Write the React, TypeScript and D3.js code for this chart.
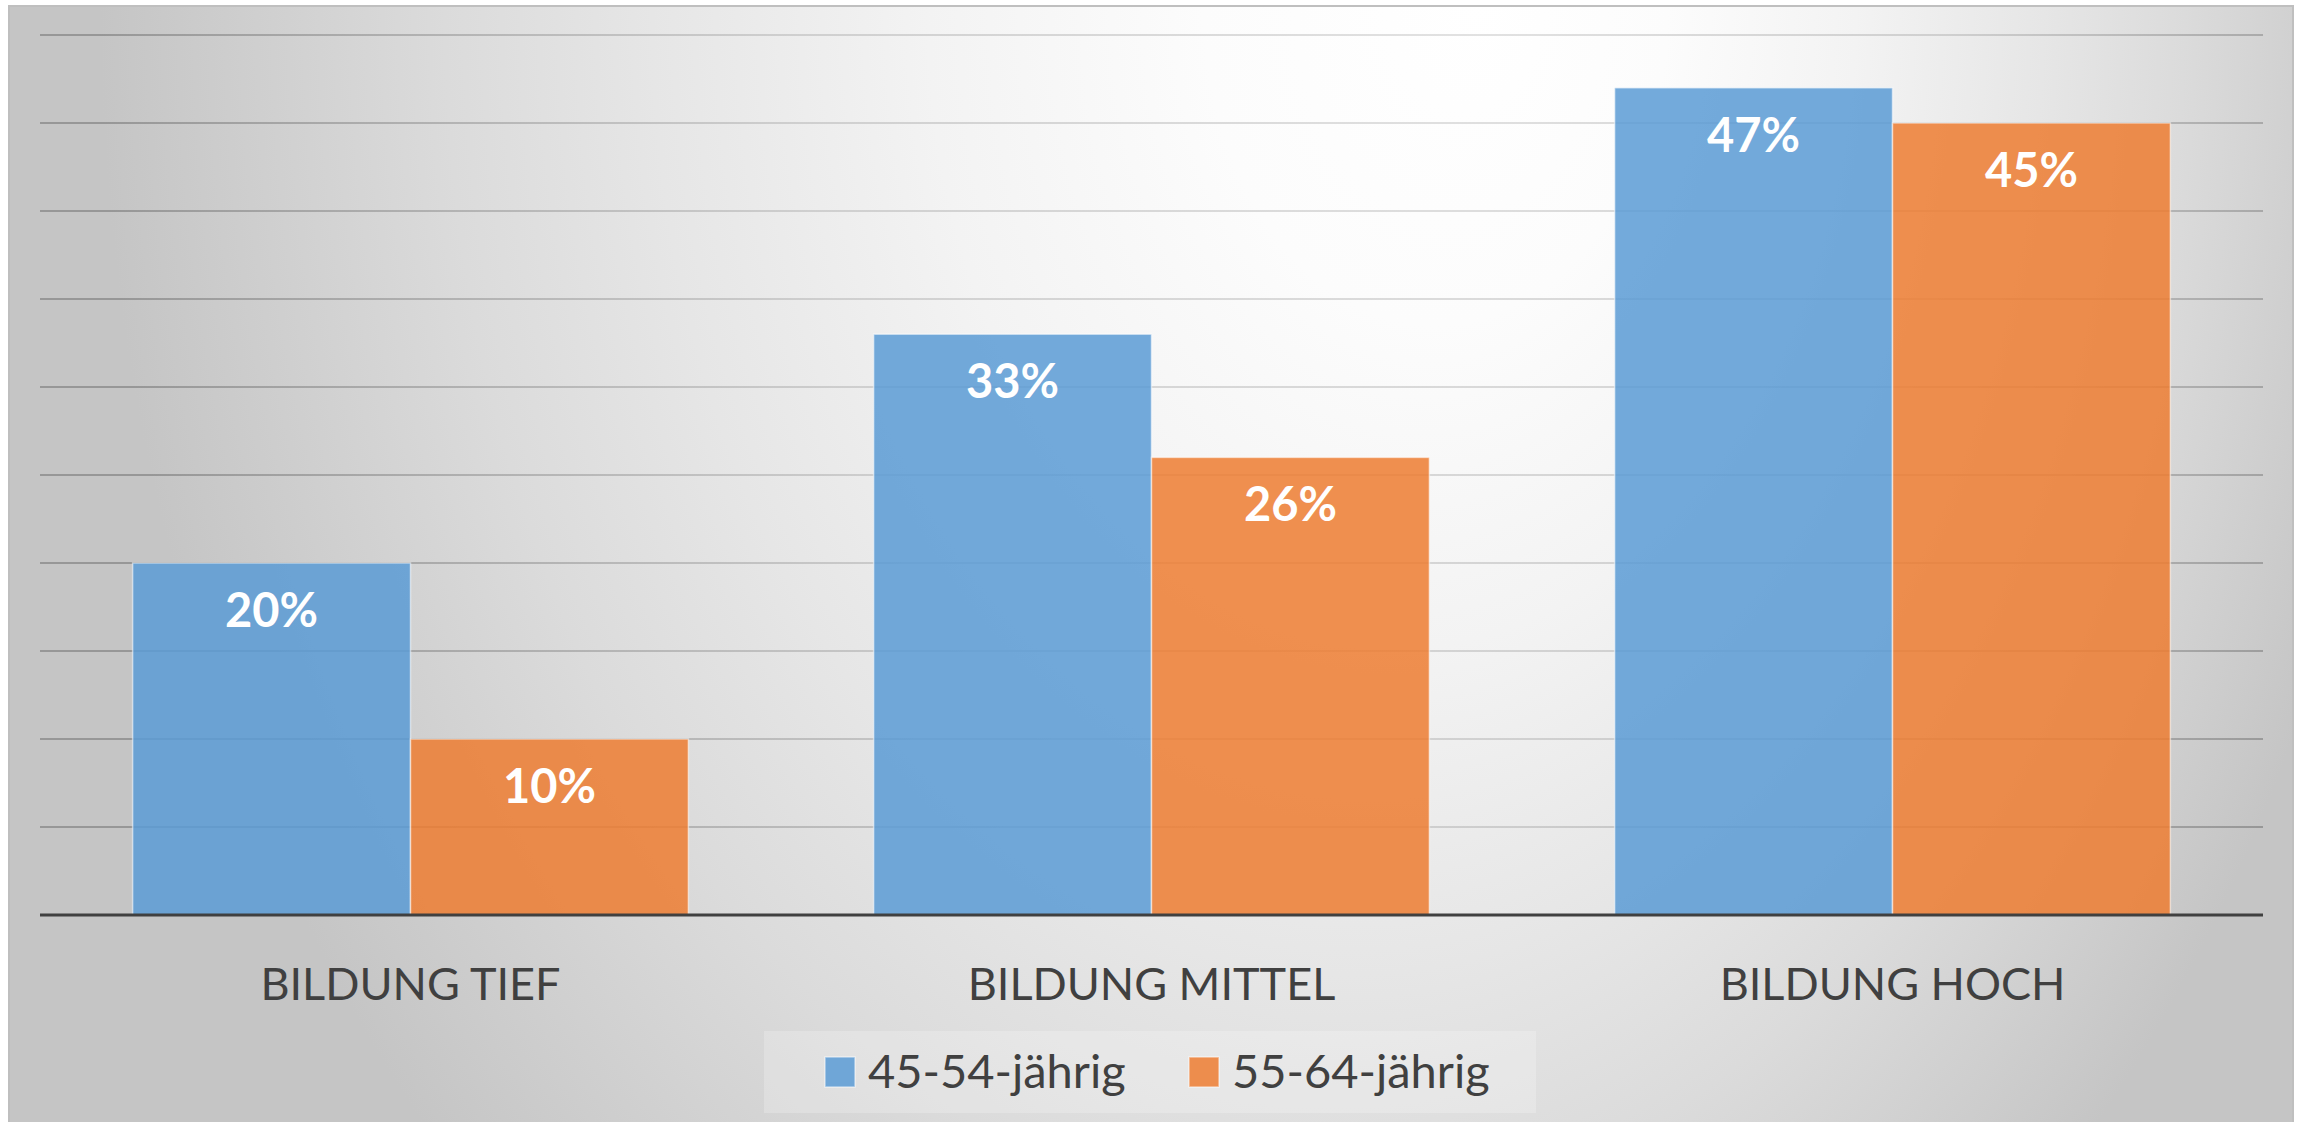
import React from "react";
import * as d3 from "d3";

const categories = ["BILDUNG TIEF", "BILDUNG MITTEL", "BILDUNG HOCH"];
const seriesNames = ["45-54-jährig", "55-64-jährig"];
const values4554 = [0.2, 0.33, 0.47];
const values5564 = [0.1, 0.26, 0.45];
const seriesColors = ["#5b9bd5", "#ed7d31"];
const yTicks = [0, 0.05, 0.1, 0.15, 0.2, 0.25, 0.3, 0.35, 0.4, 0.45, 0.5];

const W = 2305;
const H = 1122;
const FONT = "Lato, 'Open Sans', sans-serif";

export default function App() {
  const plotLeft = 40;
  const plotRight = 2263;
  const plotTop = 35;
  const plotBottom = 915;

  const x0 = d3.scaleBand<string>().domain(categories).range([plotLeft, plotRight]);
  const band = x0.bandwidth();
  const gap = band * 0.25;
  const x1 = d3.scaleBand<string>().domain(seriesNames).range([gap / 2, band - gap / 2]);
  const y = d3.scaleLinear().domain([0, 0.5]).range([plotBottom, plotTop]);
  const fmt = d3.format(".0%");
  const seriesValues = [values4554, values5564];

  const cx = 1260;
  const fx = 1480;
  const gt = `translate(${cx},0) scale(1,1.4) translate(${-cx},0)`;

  const legend = { x: 764, y: 1031, w: 772, h: 82 };
  const swatchX = [825, 1189];

  return (
    <svg
      width={W}
      height={H}
      style={{ position: "absolute", left: 0, top: 0, display: "block" }}
      fontFamily={FONT}
    >
      <defs>
        <radialGradient id="bg" gradientUnits="userSpaceOnUse" cx={cx} cy={0} fx={fx} fy={0} r={1160} gradientTransform={gt}>
          <stop offset="0" stopColor="#ffffff" />
          <stop offset="0.2" stopColor="#fcfcfc" />
          <stop offset="0.4" stopColor="#f3f3f3" />
          <stop offset="0.6" stopColor="#e6e6e6" />
          <stop offset="0.75" stopColor="#dbdbdb" />
          <stop offset="1" stopColor="#c5c5c5" />
        </radialGradient>
        <radialGradient id="gridg" gradientUnits="userSpaceOnUse" cx={cx} cy={0} fx={fx} fy={0} r={1160} gradientTransform={gt}>
          <stop offset="0" stopColor="#e2e2e2" />
          <stop offset="0.5" stopColor="#cfcfcf" />
          <stop offset="1" stopColor="#979797" />
        </radialGradient>
      </defs>
      <rect x={0} y={0} width={W} height={H} fill="#ffffff" />
      <rect x={9} y={6} width={2284} height={H} fill="url(#bg)" stroke="#bfbfbf" strokeWidth={2} />

      {yTicks.slice(1).map((t) => (
        <line
          key={t}
          x1={plotLeft}
          x2={plotRight}
          y1={y(t)}
          y2={y(t)}
          stroke="url(#gridg)"
          strokeWidth={2}
        />
      ))}

      {categories.map((c, i) => (
        <g key={c} transform={`translate(${x0(c)},0)`}>
          {seriesNames.map((s, j) => {
            const v = seriesValues[j][i];
            const bx = x1(s)!;
            const bw = x1.bandwidth();
            return (
              <g key={s}>
                <rect
                  x={bx}
                  y={y(v)}
                  width={bw}
                  height={plotBottom - y(v)}
                  fill={seriesColors[j]}
                  fillOpacity={0.85}
                  stroke="#ffffff"
                  strokeOpacity={0.55}
                  strokeWidth={1.5}
                />
                <text
                  x={bx + bw / 2}
                  y={y(v) + 64}
                  textAnchor="middle"
                  fill="#ffffff"
                  fontWeight={700}
                  fontSize={47}
                >
                  {fmt(v)}
                </text>
              </g>
            );
          })}
          <text
            x={band / 2}
            y={1000}
            textAnchor="middle"
            fill="#404040"
            fontSize={45}
          >
            {c}
          </text>
        </g>
      ))}

      <line x1={plotLeft} x2={plotRight} y1={plotBottom} y2={plotBottom} stroke="#404040" strokeWidth={3} />

      <rect x={legend.x} y={legend.y} width={legend.w} height={legend.h} fill="#ffffff" fillOpacity={0.22} />
      {seriesNames.map((s, j) => (
        <g key={s}>
          <rect
            x={swatchX[j]}
            y={1057}
            width={30}
            height={30}
            fill={seriesColors[j]}
            fillOpacity={0.85}
            stroke="#ffffff"
            strokeOpacity={0.5}
            strokeWidth={1.5}
          />
          <text x={swatchX[j] + 43} y={1088} fill="#404040" fontSize={47}>
            {s}
          </text>
        </g>
      ))}
    </svg>
  );
}
